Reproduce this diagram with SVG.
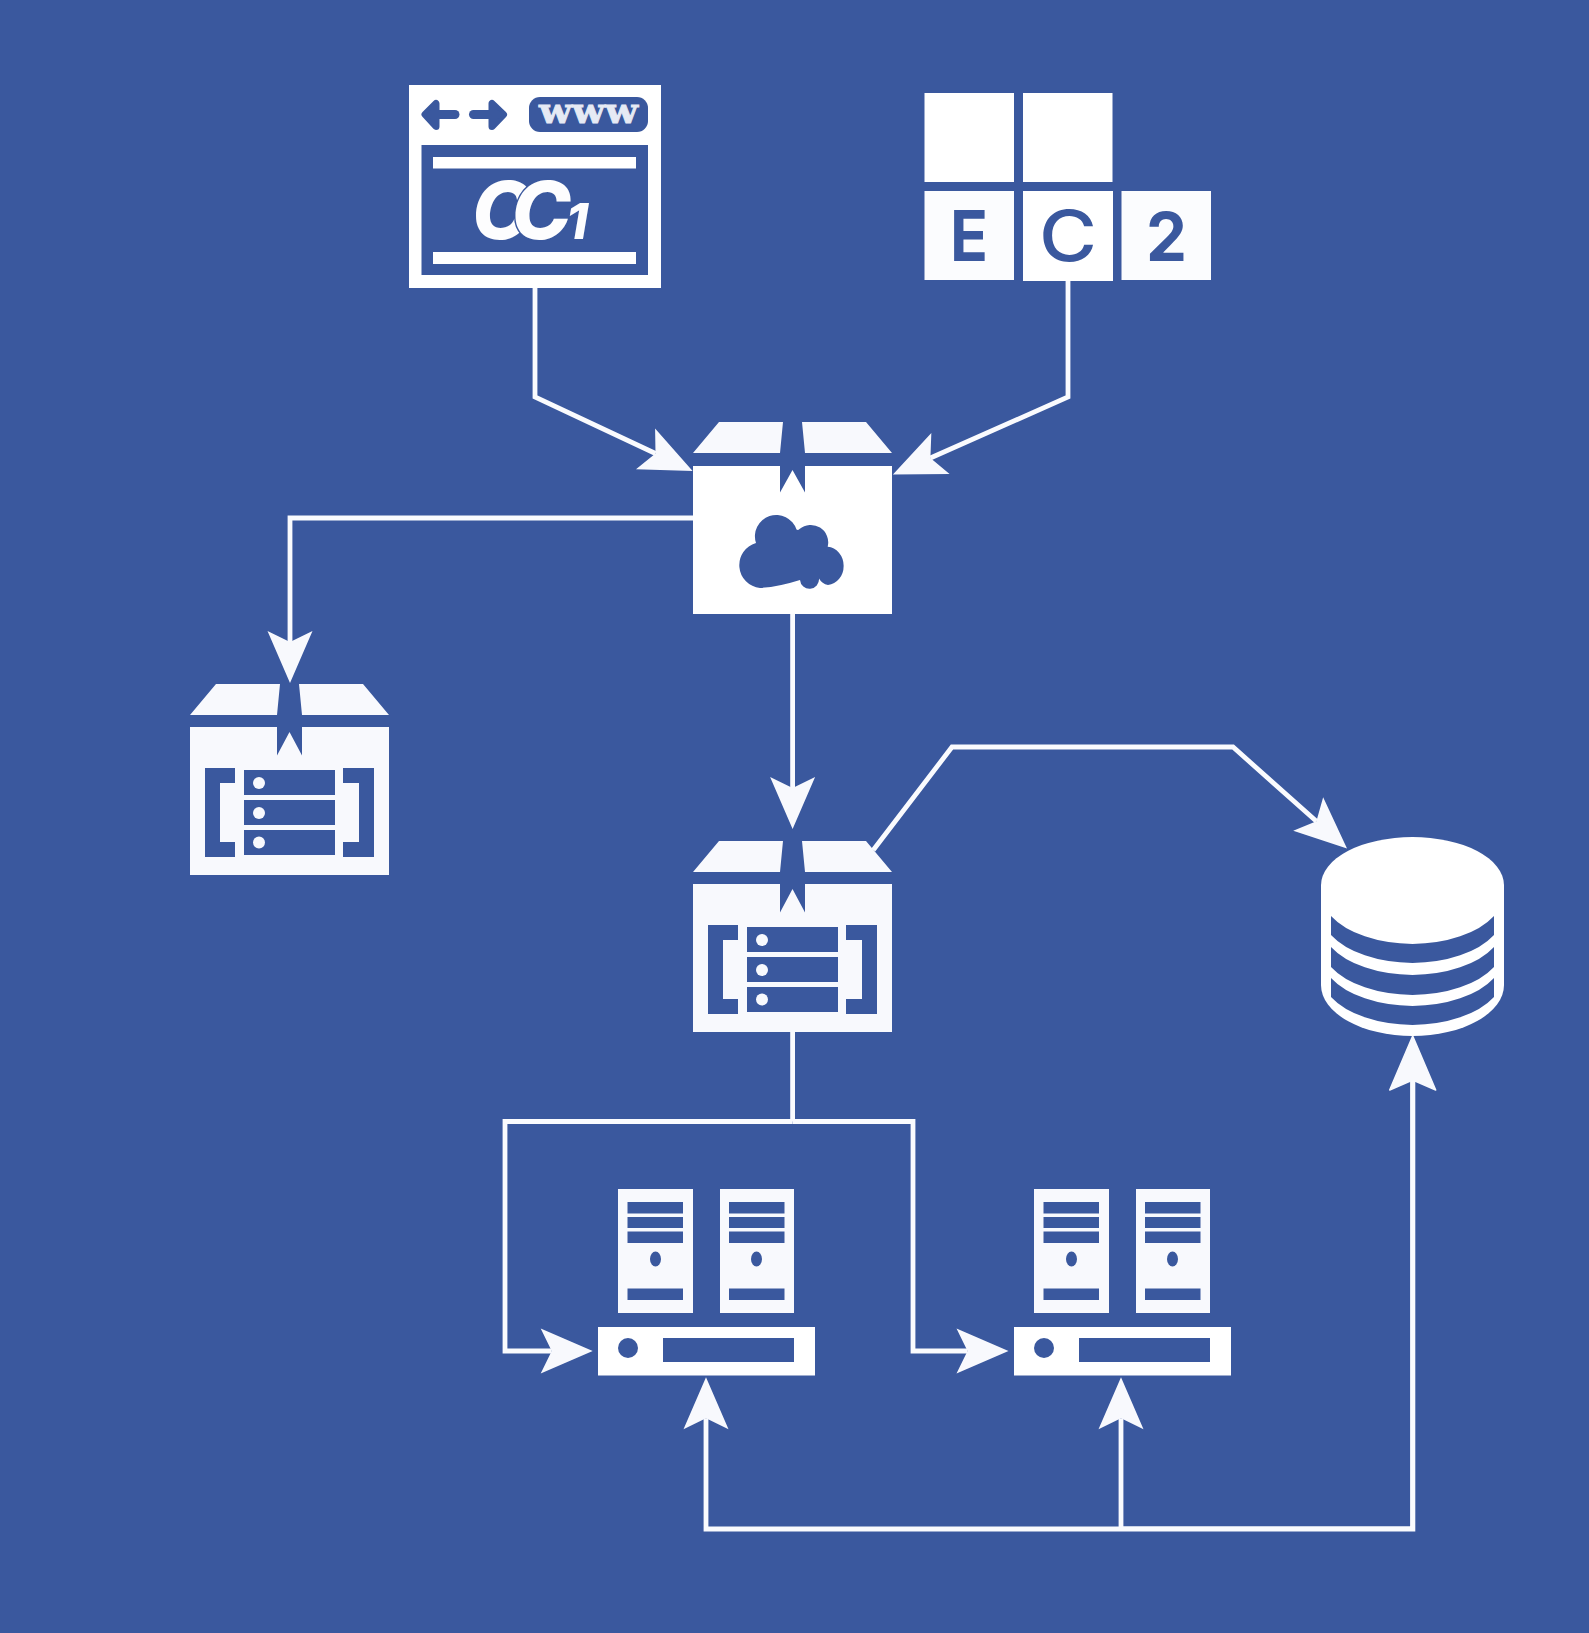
<svg xmlns="http://www.w3.org/2000/svg" xmlns:xlink="http://www.w3.org/1999/xlink" width="1589" height="1633" viewBox="0 0 1589 1633">
  <style>
    .bg { fill: #3a589e; }
    .w { fill: #ffffff; }
    .s { fill: #f8f9fd; }
    .l { fill: #fbfcfe; }
    .b { fill: #3a589e; }
    .line { fill: none; stroke: #fafbfe; stroke-width: 4.8; stroke-linejoin: miter; }
    .arrow { marker-end: url(#head); }
    .icon { font-family: "Inter", "Liberation Sans", sans-serif; font-weight: 700; fill: #3a589e; }
    .logo { font-family: "Inter", "Liberation Sans", sans-serif; font-weight: 800; font-style: italic; fill: #fdfdfe; }
    .nav { fill: #3a589e; stroke: #3a589e; stroke-width: 7; stroke-linejoin: round; stroke-linecap: round; }
  </style>
  <defs>
    <marker id="head" viewBox="-12 -24 54 48" refX="0" refY="0" markerWidth="54" markerHeight="48" markerUnits="userSpaceOnUse" orient="auto" overflow="visible">
      <path d="M-11,-22.5 L41,0 L-11,22.5 L0,0 Z" fill="#f8f9fd"/>
    </marker>
    <marker id="head-db" viewBox="-14 -26 60 52" refX="0" refY="0" markerWidth="60" markerHeight="52" markerUnits="userSpaceOnUse" orient="auto" overflow="visible">
      <path d="M-10,-23 L44,0 L-10,23 L0,0 Z" fill="#f8f9fd" stroke="#f8f9fd" stroke-width="1.500" stroke-linejoin="round"/>
    </marker>
    <g id="lid">
      <path class="s" d="M693 453 L719 422 H783 L780 453 Z M802 422 H866 L892 453 H805 Z"/>
    </g>
    <g id="crate">
      <use xlink:href="#lid" href="#lid" y="419"/>
      <path class="s" d="M693 884 H780 V912.5 L792.5 889 L805 912.5 V884 H892 V1032 H693 Z"/>
      <path class="b" d="M708 925 H738 V940 H723 V999 H738 V1014 H708 Z M877 925 H846 V940 H862 V999 H846 V1014 H877 Z"/>
      <rect class="b" x="747" y="927" width="91" height="25"/>
      <rect class="b" x="747" y="957" width="91" height="25"/>
      <rect class="b" x="747" y="987" width="91" height="25"/>
      <circle class="s" cx="762" cy="940" r="6"/>
      <circle class="s" cx="762" cy="970" r="6"/>
      <circle class="s" cx="762" cy="999.500" r="6"/>
    </g>
    <g id="servers">
      <rect class="s" x="618" y="1189" width="75" height="124"/>
      <rect class="s" x="720" y="1189" width="74" height="124"/>
      <path class="b" d="M627.500 1202 H683 V1213.500 H627.500 Z M627.500 1217 H683 V1228 H627.500 Z M627.500 1231.500 H683 V1243 H627.500 Z M627.500 1288.500 H683 V1300 H627.500 Z M729 1202 H784.500 V1213.500 H729 Z M729 1217 H784.500 V1228 H729 Z M729 1231.500 H784.500 V1243 H729 Z M729 1288.500 H784.500 V1300 H729 Z"/>
      <ellipse class="b" cx="655.500" cy="1259" rx="5.500" ry="7.500"/>
      <ellipse class="b" cx="756.500" cy="1259" rx="5.500" ry="7.500"/>
      <rect class="w" x="598" y="1327" width="217" height="48.500"/>
      <circle class="b" cx="628" cy="1348" r="10"/>
      <rect class="b" x="663" y="1338" width="131" height="24"/>
    </g>
  </defs>

  <rect class="bg" width="1589" height="1633"/>

  <g id="browser">
    <rect class="w" x="409" y="85" width="252" height="203"/>
    <rect class="b" x="421.500" y="145" width="226.500" height="130"/>
    <rect class="w" x="433" y="157" width="203" height="11.500"/>
    <rect class="w" x="433" y="252" width="203" height="12"/>
    <path class="nav" d="M425 114.500 L436 103.500 V126.500 Z"/>
    <path class="nav" style="stroke-width:9" d="M431 114.500 H455"/>
    <path class="nav" d="M503.500 114.500 L492 103.500 V126.500 Z"/>
    <path class="nav" style="stroke-width:9" d="M473.500 114.500 H497"/>
    <rect class="b" x="529" y="97" width="119" height="35" rx="11"/>
    <text x="539" y="123" font-family="'DejaVu Serif', serif" font-weight="700" font-size="33" fill="#e6eaf4" stroke="#e6eaf4" stroke-width="0.800" textLength="99" lengthAdjust="spacingAndGlyphs">www</text>
    <text class="logo" x="472" y="239" font-size="80">C<tspan dx="-20" stroke="#3a589e" stroke-width="3" paint-order="stroke">C</tspan><tspan dx="-5" font-size="50">1</tspan></text>
  </g>

  <g id="ec2">
    <rect class="w" x="924.500" y="93" width="89.500" height="89"/>
    <rect class="w" x="1023" y="93" width="89.500" height="89"/>
    <rect class="l" x="924.500" y="191" width="89.500" height="89"/>
    <rect class="w" x="1023" y="191" width="90" height="90"/>
    <rect class="l" x="1121.500" y="191" width="89.500" height="89"/>
    <text class="icon" x="950" y="261" font-size="70" textLength="38" lengthAdjust="spacingAndGlyphs">E</text>
    <text class="icon" x="1039" y="261" font-size="70" style="font-weight:500" textLength="58" lengthAdjust="spacingAndGlyphs">C</text>
    <text class="icon" x="1146" y="261" font-size="68" textLength="41" lengthAdjust="spacingAndGlyphs">2</text>
  </g>

  <g id="cloud-box">
    <use xlink:href="#lid" href="#lid"/>
    <path class="w" d="M693 466 H780 V492.500 L792.500 470 L805 492.500 V466 H892 V614 H693 Z"/>
    <path class="b" d="M760 588 A23 23 0 0 1 756 543 A21 21 0 0 1 796.500 529.500 Q798 530.500 799.500 529 A17.500 17.500 0 0 1 827.700 546.700 A17 19.200 0 0 1 828 585 A13 13 0 0 1 819 578.500 A9.500 9.500 0 0 1 800 580 Q778 587 760 588 Z"/>
  </g>

  <g id="crate-left">
    <use xlink:href="#crate" href="#crate" transform="translate(-503 -157)"/>
  </g>

  <g id="crate-center">
    <use xlink:href="#crate" href="#crate"/>
  </g>

  <g id="database">
    <path class="w" d="M1321 885 A91.500 48 0 0 1 1504 885 V985 A91.500 51 0 0 1 1321 985 Z"/>
    <path class="b" d="M1331 916 A92 52 0 0 0 1494 916 V935 A92 52 0 0 1 1331 935 Z"/>
    <path class="b" d="M1331 947 A92 52 0 0 0 1494 947 V967 A92 52 0 0 1 1331 967 Z"/>
    <path class="b" d="M1331 978 A92 52 0 0 0 1494 978 V997 A92 52 0 0 1 1331 997 Z"/>
  </g>

  <g id="servers-left">
    <use xlink:href="#servers" href="#servers"/>
  </g>

  <g id="servers-right">
    <use xlink:href="#servers" href="#servers" x="416"/>
  </g>

  <g id="connectors">
    <path class="line arrow" d="M535 288 V397 L655.500 453.500"/>
    <path class="line arrow" d="M1068 281 V397 L930.400 458"/>
    <path class="line arrow" d="M693 518 H290 V642"/>
    <path class="line arrow" d="M792.600 614 V788"/>
    <path class="line arrow" d="M873.300 850 L952 747 H1233 L1316.400 821.300"/>
    <path class="line" d="M792.600 1032 V1121.500"/>
    <path class="line arrow" d="M792.600 1121.500 H505 V1351 H551.700"/>
    <path class="line arrow" d="M792.600 1121.500 H913 V1351 H967.500"/>
    <path class="line arrow" d="M1121 1529 H706 V1418.300"/>
    <path class="line arrow" d="M1121 1529 V1418.300"/>
    <path class="line" style="marker-end:url(#head-db);stroke-width:5.200" d="M1121 1528.800 H1412.700 V1080"/>
  </g>
</svg>
